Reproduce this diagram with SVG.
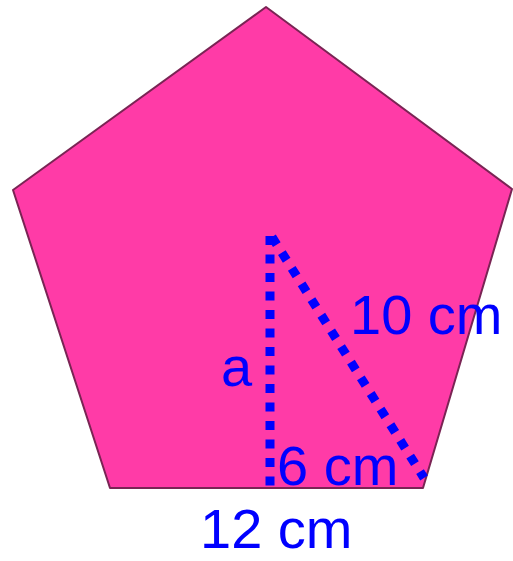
<svg xmlns="http://www.w3.org/2000/svg" width="513" height="561" viewBox="0 0 513 561">
<style>
.lbl{font-family:"Liberation Sans",Arial,sans-serif;font-size:56px;fill:#0000FF}
.dot{stroke:#0000FF;stroke-width:9;stroke-dasharray:9 9.5;fill:none}
</style>
<rect width="513" height="561" fill="#FFFFFF"/>
<g id="pentagon">
<polygon points="266,7 512,189 423,488 110,488 13,190" fill="#FF3BA7" stroke="#7A2454" stroke-width="2" stroke-linejoin="round"/>
</g>
<g id="connectors">
<line class="dot" x1="270" y1="236" x2="270" y2="488"/>
<line class="dot" x1="272" y1="237" x2="424" y2="478"/>
</g>
<g id="labels">
<text class="lbl" x="350" y="334">10 cm</text>
<text class="lbl" x="221" y="386">a</text>
<text class="lbl" x="277" y="485">6 cm</text>
<text class="lbl" x="200" y="548">12 cm</text>
</g>
</svg>
